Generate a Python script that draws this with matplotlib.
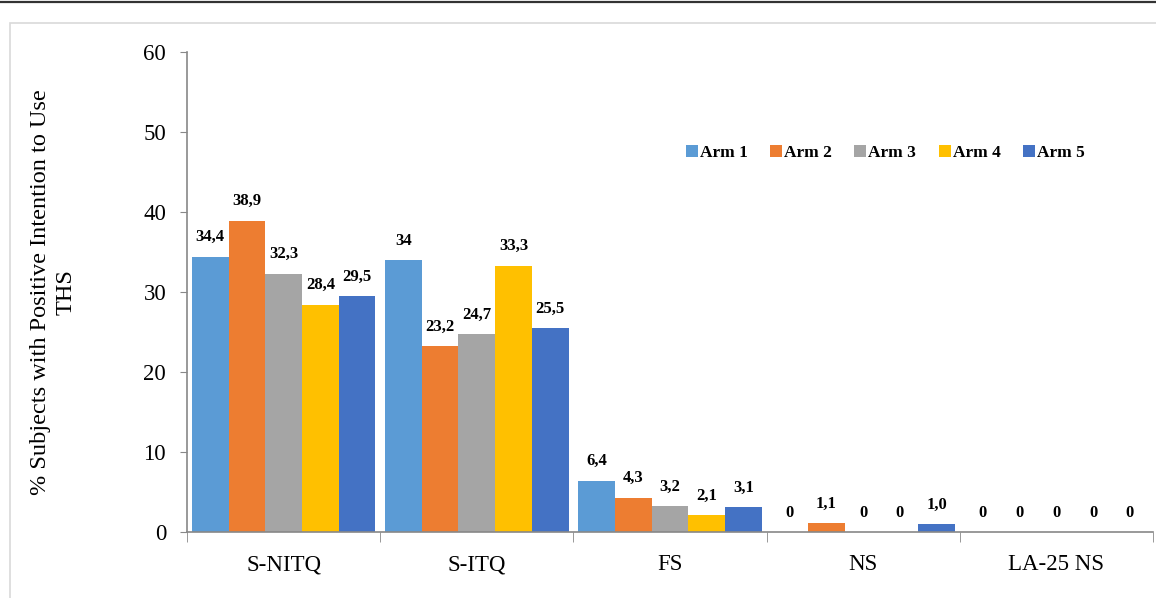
import matplotlib
matplotlib.use("Agg")
import matplotlib.pyplot as plt
import numpy as np

# data
categories = ["S-NITQ", "S-ITQ", "FS", "NS", "LA-25 NS"]
arms = ["Arm 1", "Arm 2", "Arm 3", "Arm 4", "Arm 5"]
arm1 = [34.4, 34.0, 6.4, 0.0, 0.0]
arm2 = [38.9, 23.2, 4.3, 1.1, 0.0]
arm3 = [32.3, 24.7, 3.2, 0.0, 0.0]
arm4 = [28.4, 33.3, 2.1, 0.0, 0.0]
arm5 = [29.5, 25.5, 3.1, 1.0, 0.0]
labels1 = ["34,4", "34", "6,4", "0", "0"]
labels2 = ["38,9", "23,2", "4,3", "1,1", "0"]
labels3 = ["32,3", "24,7", "3,2", "0", "0"]
labels4 = ["28,4", "33,3", "2,1", "0", "0"]
labels5 = ["29,5", "25,5", "3,1", "1,0", "0"]
colors = ["#5b9bd5", "#ed7d31", "#a5a5a5", "#ffc000", "#4472c4"]

series = [arm1, arm2, arm3, arm4, arm5]
series_labels = [labels1, labels2, labels3, labels4, labels5]

plt.rcParams["font.family"] = ["Liberation Serif", "DejaVu Serif"]

fig = plt.figure(figsize=(11.56, 5.98), dpi=100)

# outer frame lines like the source screenshot
fig.add_artist(plt.Line2D([0, 1], [0.996, 0.996], color="#333333", lw=1.6,
                          transform=fig.transFigure))
fig.add_artist(plt.Rectangle((10 / 1156, -0.05), 1.1, (598 - 23) / 598 + 0.05,
                             transform=fig.transFigure, fill=False,
                             edgecolor="#d9d9d9", lw=1.2))

ax = fig.add_axes([187 / 1156, 66 / 598, 966 / 1156, 480 / 598])

x = np.arange(len(categories))
w = 0.19
for i, (vals, labs) in enumerate(zip(series, series_labels)):
    pos = x + (i - 2) * w
    ax.bar(pos, vals, width=w, color=colors[i], label=arms[i])
    for px, v, t in zip(pos, vals, labs):
        ax.annotate(t, (px, v), xytext=(0, 14), textcoords="offset points",
                    ha="center", va="center", fontsize=12, fontweight="bold")

ax.set_xlim(-0.5, len(categories) - 0.5)
ax.set_ylim(0, 60)
ax.set_yticks(range(0, 61, 10))
ax.tick_params(axis="y", labelsize=16.5, length=5, color="#888888", pad=10)

ax.set_xticks(x)
ax.set_xticklabels(categories, fontsize=16.5)
ax.tick_params(axis="x", length=0, pad=16)
ax.set_xticks(np.arange(-0.5, len(categories)), minor=True)
ax.tick_params(axis="x", which="minor", length=7, color="#888888")

for s in ["top", "right"]:
    ax.spines[s].set_visible(False)
for s in ["left", "bottom"]:
    ax.spines[s].set_color("#888888")
    ax.spines[s].set_linewidth(1.2)

ax.set_ylabel("% Subjects with Positive Intention to Use\nTHS", fontsize=17.5,
              labelpad=48, linespacing=1.3)

ax.legend(loc="center left", bbox_to_anchor=(0.5, 0.79), ncol=5, frameon=False,
          prop={"weight": "bold", "size": 12.5}, handlelength=0.7,
          handleheight=0.7, handletextpad=0.1, columnspacing=1.3)

fig.savefig("out.png", dpi=100)
